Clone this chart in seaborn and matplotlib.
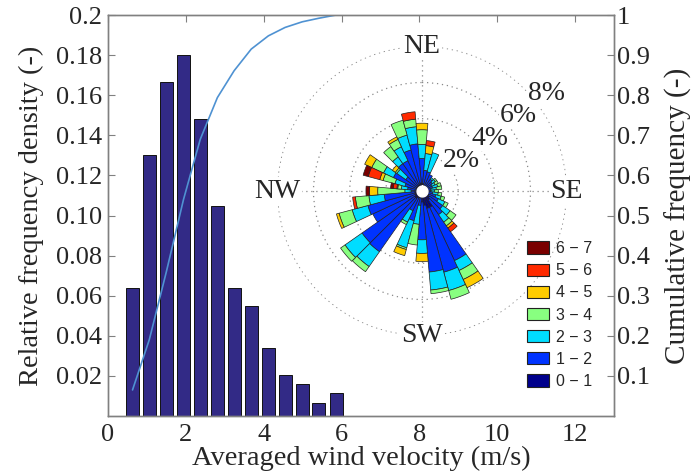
import numpy as np
import pandas as pd
import matplotlib
matplotlib.use("Agg")
import matplotlib.pyplot as plt
import seaborn as sns
from matplotlib.patches import Patch

# ---------------- data: wind speed histogram ----------------
bin_centers = [0.63, 1.06, 1.50, 1.94, 2.37, 2.81, 3.24, 3.68, 4.12, 4.55, 4.99, 5.42, 5.86]
rel_freq = [0.064, 0.130, 0.1667, 0.180, 0.148, 0.1047, 0.064, 0.055, 0.034, 0.0203, 0.0162, 0.0067, 0.0113]
cum_freq = [0.065, 0.19, 0.36, 0.54, 0.69, 0.794, 0.861, 0.915, 0.948, 0.969, 0.983, 0.992, 1.0]

x_ticks = [0, 2, 4, 6, 8, 10, 12]
x_tick_labels = ["0", "2", "4", "6", "8", "10", "12"]
left_ticks = [0.02, 0.04, 0.06, 0.08, 0.10, 0.12, 0.14, 0.16, 0.18, 0.2]
left_tick_labels = ["0.02", "0.04", "0.06", "0.08", "0.10", "0.12", "0.14", "0.16", "0.18", "0.2"]
right_ticks = [0.1, 0.2, 0.3, 0.4, 0.5, 0.6, 0.7, 0.8, 0.9, 1.0]
right_tick_labels = ["0.1", "0.2", "0.3", "0.4", "0.5", "0.6", "0.7", "0.8", "0.9", "1"]

# ---------------- data: wind rose (screen angle, clockwise from top = NE) ----------------
rose_dirs = list(range(0, 360, 10))
dir_labels = ["NE", "SE", "SW", "NW"]
dir_label_angles = [0, 90, 180, 270]
pct_levels = [2, 4, 6, 8]
speed_classes = ["0 \u2212 1", "1 \u2212 2", "2 \u2212 3", "3 \u2212 4", "4 \u2212 5", "5 \u2212 6", "6 \u2212 7"]
#            0     10    20    30    40    50    60    70    80    90    100   110   120   130   140   150   160   170   180   190   200   210   220   230   240   250   260   270   280   290   300   310   320   330   340   350
rose_0_1 = [0.40, 0.40, 0.30, 0.30, 0.30, 0.30, 0.20, 0.20, 0.20, 0.20, 0.20, 0.30, 0.40, 0.50, 0.60, 1.00, 1.00, 0.80, 0.60, 0.30, 0.40, 0.40, 0.50, 0.50, 0.40, 0.40, 0.40, 0.30, 0.30, 0.30, 0.35, 0.30, 0.35, 0.35, 0.40, 0.45]
rose_1_2 = [1.40, 0.75, 0.80, 0.70, 0.50, 0.40, 0.40, 0.40, 0.30, 0.30, 0.40, 0.50, 0.60, 0.90, 1.00, 3.25, 3.65, 3.70, 2.10, 0.50, 1.30, 0.80, 3.60, 3.55, 2.60, 2.70, 1.70, 0.30, 0.50, 0.68, 1.40, 0.80, 1.50, 1.50, 1.95, 2.17]
rose_2_3 = [0.78, 0.93, 1.10, 0.00, 0.10, 0.20, 0.20, 0.30, 0.30, 0.20, 0.30, 0.30, 0.40, 0.50, 0.50, 0.60, 1.05, 1.00, 0.75, 1.05, 1.55, 0.70, 1.00, 1.15, 0.00, 0.90, 0.85, 0.35, 0.35, 0.57, 0.60, 0.60, 0.45, 0.85, 0.85, 0.95]
rose_3_4 = [0.81, 0.00, 0.00, 0.00, 0.00, 0.10, 0.20, 0.20, 0.30, 0.20, 0.20, 0.20, 0.20, 0.40, 0.25, 0.55, 0.50, 0.20, 0.00, 1.15, 0.10, 0.15, 0.35, 0.30, 0.00, 0.75, 0.75, 1.50, 0.20, 0.68, 0.72, 0.10, 0.70, 0.45, 0.85, 0.42]
rose_4_5 = [0.36, 0.44, 0.00, 0.00, 0.00, 0.00, 0.00, 0.00, 0.00, 0.00, 0.00, 0.00, 0.00, 0.00, 0.15, 0.50, 0.00, 0.00, 0.45, 0.00, 0.35, 0.00, 0.00, 0.00, 0.00, 0.15, 0.00, 0.45, 0.05, 0.19, 0.43, 0.20, 0.00, 0.15, 0.00, 0.00]
rose_5_6 = [0.00, 0.28, 0.00, 0.00, 0.00, 0.00, 0.00, 0.00, 0.00, 0.00, 0.00, 0.00, 0.00, 0.00, 0.25, 0.00, 0.00, 0.00, 0.00, 0.00, 0.00, 0.00, 0.00, 0.00, 0.00, 0.00, 0.15, 0.00, 0.20, 0.66, 0.00, 0.00, 0.00, 0.00, 0.00, 0.41]
rose_6_7 = [0.00, 0.00, 0.00, 0.00, 0.00, 0.00, 0.00, 0.00, 0.00, 0.00, 0.00, 0.00, 0.00, 0.00, 0.00, 0.00, 0.00, 0.00, 0.00, 0.00, 0.00, 0.00, 0.00, 0.00, 0.00, 0.00, 0.00, 0.20, 0.15, 0.29, 0.00, 0.00, 0.00, 0.00, 0.00, 0.00]
rose_classes = [rose_0_1, rose_1_2, rose_2_3, rose_3_4, rose_4_5, rose_5_6, rose_6_7]
class_colors = ["#00008c", "#0033ff", "#00ddff", "#88ff80", "#ffcc00", "#ff2a00", "#7a0000"]

# ---------------- style ----------------
sns.set_style("white")
plt.rcParams["font.family"] = ["Liberation Serif", "DejaVu Serif"]

W, H = 693, 474
fig = plt.figure(figsize=(W / 100, H / 100), dpi=100)
fig.patch.set_facecolor("white")

L, R, T, B = 108, 614, 15, 416
ax = fig.add_axes([L / W, 1 - B / H, (R - L) / W, (B - T) / H])

df = pd.DataFrame({"speed": bin_centers, "freq": rel_freq})
sns.barplot(data=df, x="speed", y="freq", native_scale=True, width=0.78,
            color="#322a86", saturation=1, edgecolor="#111111", linewidth=0.7,
            errorbar=None, ax=ax, zorder=2)
ax.set_xlim(0, 13)
ax.set_ylim(0, 0.2)
ax.set_xticks(x_ticks)
ax.set_xticklabels(x_tick_labels)
ax.set_yticks(left_ticks)
ax.set_yticklabels(left_tick_labels)
ax.tick_params(axis="both", direction="in", length=5, width=0.8, color="#808080",
               labelsize=19, top=True, right=False, pad=4)
ax.tick_params(axis="x", pad=6)
ax.set_xlabel("Averaged wind velocity (m/s)", fontsize=20.5, labelpad=0)
ax.set_ylabel("Relative frequency density (-)", fontsize=20.5, labelpad=9)
for s in ax.spines.values():
    s.set_color("#808080")
    s.set_linewidth(1.0)

ax2 = ax.twinx()
sns.lineplot(x=bin_centers, y=cum_freq, ax=ax2, color="#4f92d2", linewidth=1.2)
ax2.set_ylim(0, 1)
ax2.set_yticks(right_ticks)
ax2.set_yticklabels(right_tick_labels)
ax2.tick_params(axis="y", direction="in", length=5, width=0.8, color="#808080",
                labelsize=19, pad=2)
ax2.set_ylabel("Cumulative frequency (-)", fontsize=21, labelpad=11, rotation=90)
for s in ax2.spines.values():
    s.set_color("#808080")
    s.set_linewidth(1.0)

# ---------------- wind rose inset ----------------
cx, cy, rad = 422, 191, 145
pax = fig.add_axes([(cx - rad) / W, 1 - (cy + rad) / H, 2 * rad / W, 2 * rad / H],
                   projection="polar")
pax.set_facecolor("none")
pax.set_theta_zero_location("N")
pax.set_theta_direction(-1)
theta = np.deg2rad(rose_dirs)
bottom = np.zeros(len(rose_dirs))
for vals, col in zip(rose_classes, class_colors):
    v = np.asarray(vals)
    m = v > 0
    pax.bar(theta[m], v[m], width=np.deg2rad(10), bottom=bottom[m], color=col,
            edgecolor="#222222", linewidth=0.5, align="center", zorder=3)
    bottom = bottom + v
# empty centre
tt = np.linspace(0, 2 * np.pi, 100)
pax.fill_between(tt, 0, 0.3, color="white", zorder=5)

pax.set_ylim(0, 8.02)
pax.set_yticks(pct_levels)
pax.set_yticklabels([])
pax.set_xticks(np.deg2rad(dir_label_angles))
pax.set_xticklabels([])
pax.grid(True, linestyle=(0, (1, 3)), color="#8a8a8a", linewidth=0.9)
pax.spines["polar"].set_visible(False)
for lab, ang in zip(dir_labels, dir_label_angles):
    pax.text(np.deg2rad(ang), 8.0, lab, ha="center", va="center", fontsize=20,
             bbox=dict(fc="white", ec="none", pad=1.0), zorder=6)
for lv in pct_levels:
    pax.text(np.deg2rad(52), lv + 0.75, f"{lv}%", ha="center", va="center", fontsize=20,
             bbox=dict(fc="white", ec="none", pad=0.5), zorder=6)

# legend
handles = [Patch(facecolor=c, edgecolor="#222222", linewidth=0.8) for c in class_colors]
order = list(range(len(speed_classes)))[::-1]
fig.legend([handles[i] for i in order], [speed_classes[i] for i in order],
           loc="upper left", bbox_to_anchor=(527 / W, 1 - 241 / H), frameon=False,
           prop={"family": "Liberation Sans", "size": 11.5}, handlelength=1.4,
           handleheight=0.8, handletextpad=0.4, labelspacing=0.45,
           borderpad=0, borderaxespad=0)

fig.savefig("out.png", dpi=100)
